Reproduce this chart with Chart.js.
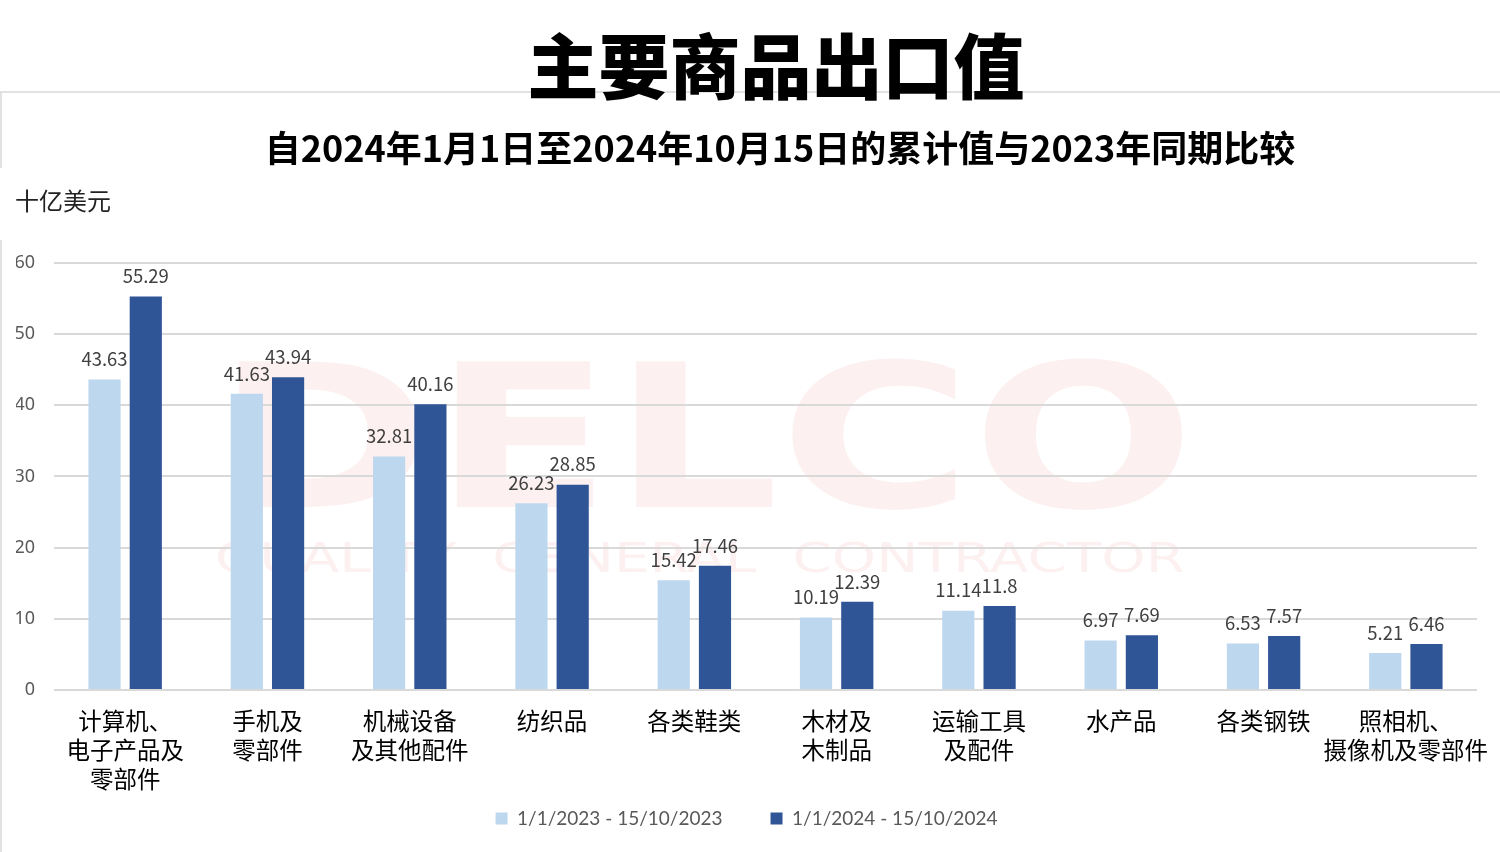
<!DOCTYPE html>
<html>
<head>
<meta charset="utf-8">
<script src="https://cdn.jsdelivr.net/npm/chart.js@4/dist/chart.umd.min.js"></script>
<style>
  html, body { margin: 0; padding: 0; background: #fff; }
  #wrap { width: 1500px; height: 852px; position: relative; }
</style>
</head>
<body>
<div id="wrap"><canvas id="chart"></canvas></div>
<script>
// data
const categories = [
  ['计算机、', '电子产品及', '零部件'],
  ['手机及', '零部件'],
  ['机械设备', '及其他配件'],
  ['纺织品'],
  ['各类鞋类'],
  ['木材及', '木制品'],
  ['运输工具', '及配件'],
  ['水产品'],
  ['各类钢铁'],
  ['照相机、', '摄像机及零部件']
];
const values2023 = [43.63, 41.63, 32.81, 26.23, 15.42, 10.19, 11.14, 6.97, 6.53, 5.21];
const values2024 = [55.29, 43.94, 40.16, 28.85, 17.46, 12.39, 11.8, 7.69, 7.57, 6.46];
const seriesNames = ['1/1/2023 - 15/10/2023', '1/1/2024 - 15/10/2024'];
const yTicks = [0, 10, 20, 30, 40, 50, 60];
const titleText = '主要商品出口值';
const subtitleText = '自2024年1月1日至2024年10月15日的累计值与2023年同期比较';
const unitText = '十亿美元';

const cjk = '"Noto Sans CJK SC", "Noto Sans", sans-serif';

// frame lines, watermark, titles and unit label
const decorPlugin = {
  id: 'decor',
  beforeDraw(chart) {
    const ctx = chart.ctx;
    ctx.save();
    ctx.strokeStyle = '#d9d9d9';
    ctx.lineWidth = 1.5;
    ctx.beginPath();
    ctx.moveTo(0, 92); ctx.lineTo(1500, 92);
    ctx.moveTo(1, 92); ctx.lineTo(1, 168);
    ctx.moveTo(1, 240); ctx.lineTo(1, 852);
    ctx.stroke();

    // faint watermark
    ctx.fillStyle = 'rgba(235, 90, 90, 0.09)';
    ctx.textAlign = 'center';
    ctx.textBaseline = 'middle';
    ctx.font = '900 200px "DejaVu Sans", sans-serif';
    const w = ctx.measureText('DELCO').width;
    ctx.save();
    ctx.translate(705, 455);
    ctx.scale(980 / w, 1);
    ctx.fillText('DELCO', 0, 0);
    ctx.restore();
    ctx.font = '40px "DejaVu Sans", sans-serif';
    const t = 'QUALITY  GENERAL  CONTRACTOR';
    const w2 = ctx.measureText(t).width;
    ctx.save();
    ctx.translate(700, 562);
    ctx.scale(970 / w2, 1);
    ctx.fillText(t, 0, 0);
    ctx.restore();

    ctx.fillStyle = '#000';
    ctx.font = '900 71px ' + cjk;
    ctx.fillText(titleText, 776, 66);
    ctx.font = 'bold 36px ' + cjk;
    ctx.fillText(subtitleText, 780, 148);

    ctx.fillStyle = '#222';
    ctx.textAlign = 'left';
    ctx.font = '24px ' + cjk;
    ctx.fillText(unitText, 15, 201);
    ctx.restore();
  }
};

// value labels above bars
const valueLabels = {
  id: 'valueLabels',
  afterDatasetsDraw(chart) {
    const ctx = chart.ctx;
    ctx.save();
    ctx.fillStyle = '#404040';
    ctx.font = '18.5px ' + cjk;
    ctx.textAlign = 'center';
    ctx.textBaseline = 'bottom';
    chart.data.datasets.forEach((ds, i) => {
      chart.getDatasetMeta(i).data.forEach((bar, j) => {
        ctx.fillText(String(ds.data[j]), bar.x, bar.y - 11);
      });
    });
    ctx.restore();
  }
};

new Chart(document.getElementById('chart'), {
  type: 'bar',
  data: {
    labels: categories,
    datasets: [
      { label: seriesNames[0], data: values2023, backgroundColor: '#bdd7ee' },
      { label: seriesNames[1], data: values2024, backgroundColor: '#2f5597' }
    ]
  },
  options: {
    responsive: true,
    maintainAspectRatio: false,
    animation: false,
    layout: { padding: { left: 16, right: 23, top: 263, bottom: 14 } },
    datasets: {
      bar: { categoryPercentage: 0.58, barPercentage: 0.78 }
    },
    scales: {
      x: {
        grid: { display: false },
        border: { display: false },
        afterFit(axis) {
          axis.paddingLeft = 0;
          axis.paddingRight = 0;
          axis.height -= 7;
        },
        ticks: {
          color: '#000',
          font: { family: cjk, size: 23.5, lineHeight: 1.22 },
          padding: 9,
          maxRotation: 0,
          autoSkip: false
        }
      },
      y: {
        min: 0,
        max: 60,
        afterBuildTicks(axis) { axis.ticks = yTicks.map(v => ({ value: v })); },
        afterFit(axis) { axis.width = 38; },
        grid: { color: '#d9d9d9', lineWidth: 2, drawTicks: false },
        border: { display: false },
        ticks: {
          color: '#595959',
          font: { family: '"Noto Sans", sans-serif', size: 18 },
          padding: 19
        }
      }
    },
    plugins: {
      title: { display: false },
      legend: {
        position: 'bottom',
        labels: {
          color: '#595959',
          font: { family: 'Lato, "Noto Sans", sans-serif', size: 19 },
          boxWidth: 12,
          boxHeight: 12,
          padding: 14,
          // wider gap between the two entries, as in the reference
          generateLabels(chart) {
            const items = Chart.defaults.plugins.legend.labels.generateLabels(chart);
            items.forEach((it, i) => { if (i < items.length - 1) it.text += '       '; });
            return items;
          }
        }
      },
      tooltip: { enabled: false }
    }
  },
  plugins: [decorPlugin, valueLabels]
});
</script>
</body>
</html>
